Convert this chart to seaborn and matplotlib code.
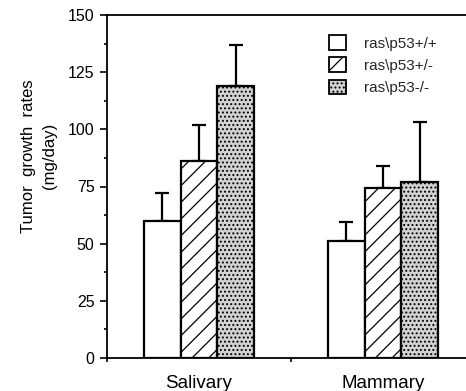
import matplotlib
matplotlib.use("Agg")
import matplotlib.pyplot as plt
import seaborn as sns
import pandas as pd
import numpy as np
from matplotlib.patches import Patch
from matplotlib.ticker import MultipleLocator, FixedLocator

tissues = ["Salivary", "Mammary"]
genotypes = ["ras\\p53+/+", "ras\\p53+/-", "ras\\p53-/-"]
salivary_means = [60, 86, 119]
salivary_err = [12, 16, 18]
mammary_means = [51, 74.5, 77]
mammary_err = [8.5, 9.5, 26]
yticks = [0, 25, 50, 75, 100, 125, 150]

sns.set_theme(style="ticks")
plt.rcParams["font.family"] = ["Liberation Sans", "DejaVu Sans"]
plt.rcParams["hatch.color"] = "black"
plt.rcParams["hatch.linewidth"] = 0.9

rows = []
for t, means in zip(tissues, [salivary_means, mammary_means]):
    for g, m in zip(genotypes, means):
        rows.append({"tissue": t, "genotype": g, "rate": m})
df = pd.DataFrame(rows)
errs = {"Salivary": salivary_err, "Mammary": mammary_err}

fig = plt.figure(figsize=(4.66, 3.91), dpi=100)
ax = fig.add_axes([107 / 466, 33 / 391, 359 / 466, 343 / 391])

sns.barplot(data=df, x="tissue", y="rate", hue="genotype", order=tissues,
            hue_order=genotypes, palette=["white"] * 3, edgecolor="black",
            linewidth=1.6, errorbar=None, width=0.6, legend=False, ax=ax)

styles = [("white", ""), ("white", "//"), ("#d2d2d2", "....")]
bar_containers = list(ax.containers)
for gi, cont in enumerate(bar_containers):
    fc, h = styles[gi]
    xs, ys, es = [], [], []
    for ti, p in enumerate(cont.patches):
        p.set_facecolor(fc)
        p.set_hatch(h)
        p.set_zorder(2)
        xs.append(p.get_x() + p.get_width() / 2)
        ys.append(p.get_height())
        es.append(errs[tissues[ti]][gi])
    ax.errorbar(xs, ys, yerr=[np.zeros(len(es)), es], fmt="none",
                ecolor="black", elinewidth=1.6, capsize=5, capthick=1.6,
                zorder=1)

ax.set_ylim(0, 150)
ax.set_xlim(-0.5, -0.5 + 359 / 184)
ax.yaxis.set_major_locator(FixedLocator(yticks))
ax.yaxis.set_minor_locator(MultipleLocator(12.5))
ax.xaxis.set_minor_locator(FixedLocator([-0.5, 0.5, 1.5]))
ax.tick_params(axis="y", which="major", length=5, width=1.2, pad=4,
               labelsize=11.5, color="black", labelcolor="black")
ax.tick_params(axis="y", which="minor", length=2.5, width=1.2, color="black")
ax.tick_params(axis="x", which="major", length=0, pad=12, labelsize=13.5,
               labelcolor="black")
ax.tick_params(axis="x", which="minor", length=3, width=1.2, color="black")

for s in ["left", "bottom", "top"]:
    ax.spines[s].set_visible(True)
    ax.spines[s].set_linewidth(1.3)
    ax.spines[s].set_color("black")
ax.spines["right"].set_visible(False)

ax.set_xlabel("")
ax.set_ylabel("Tumor  growth  rates\n(mg/day)", fontsize=12, color="black",
              linespacing=1.5)
ax.yaxis.set_label_coords((57 - 107) / 359, (358 - 156) / 343)

handles = [Patch(facecolor=fc, edgecolor="black", hatch=h, linewidth=1.3)
           for fc, h in styles]
ax.legend(handles, genotypes, loc="upper left",
          bbox_to_anchor=((329 - 107) / 359, 1 - 20 / 343), frameon=False,
          fontsize=11, handlelength=1.1, handleheight=1.1, handletextpad=1.2,
          labelspacing=0.45, borderaxespad=0, borderpad=0)

fig.savefig("out.png", dpi=100)
